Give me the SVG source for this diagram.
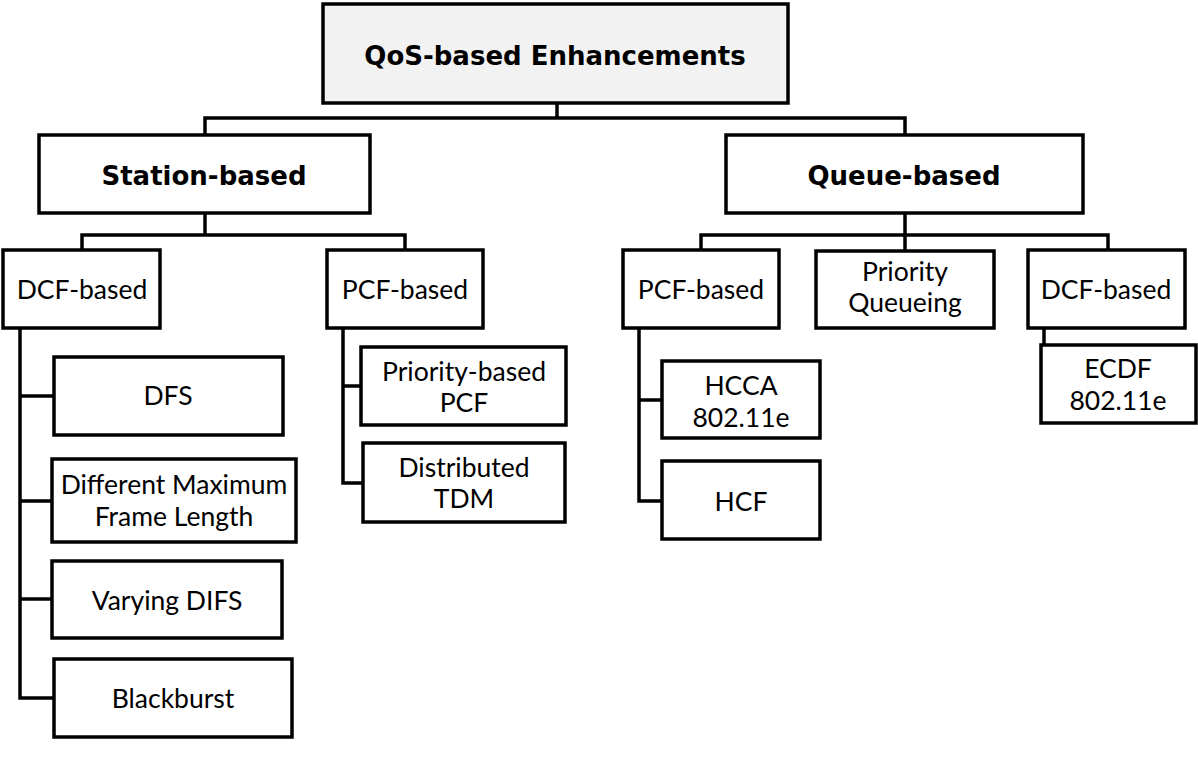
<svg xmlns="http://www.w3.org/2000/svg" width="1198" height="764" viewBox="0 0 1198 764">
<style>
.box{fill:#fff;stroke:#000;stroke-width:3.5}
.root{fill:#f2f2f2;stroke:#000;stroke-width:3.5}
.t{font-family:Lato,"Open Sans",sans-serif;font-size:26.5px;fill:#000;text-anchor:middle}
.b{font-family:"DejaVu Sans",sans-serif;font-weight:bold;font-size:26px}
.c{fill:none;stroke:#000;stroke-width:3.5;stroke-linejoin:miter}
</style>
<rect width="1198" height="764" fill="#fff"/>
<g id="connectors">
<path class="c" d="M557 103V118M205 135V118H905V135"/>
<path class="c" d="M205 213V235M82 250V235H405V250"/>
<path class="c" d="M905 213V251M701 250V235H1108V250"/>
<path class="c" d="M20 328V698H54M20 396H54M20 501H52M20 599H52"/>
<path class="c" d="M343 328V483H363M343 386H361"/>
<path class="c" d="M639 328V501H662M639 400H662"/>
<path class="c" d="M1044 328V345"/>
</g>
<g id="root"><rect class="root" x="323" y="4" width="465" height="99"/><text class="t b" x="555" y="65">QoS-based Enhancements</text></g>
<g id="station"><rect class="box" x="39" y="135" width="331" height="78"/><text class="t b" x="204" y="185">Station-based</text></g>
<g id="queue"><rect class="box" x="726" y="135" width="357" height="78"/><text class="t b" x="904" y="185">Queue-based</text></g>
<g id="dcf-left"><rect class="box" x="3" y="250" width="157" height="78"/><text class="t" x="82" y="299">DCF-based</text></g>
<g id="pcf-left"><rect class="box" x="327" y="250" width="156" height="78"/><text class="t" x="405" y="299">PCF-based</text></g>
<g id="pcf-right"><rect class="box" x="623" y="250" width="156" height="78"/><text class="t" x="701" y="299">PCF-based</text></g>
<g id="prio-queue"><rect class="box" x="816" y="251" width="178" height="77"/><text class="t" x="905" y="281">Priority</text><text class="t" x="905" y="312">Queueing</text></g>
<g id="dcf-right"><rect class="box" x="1028" y="250" width="157" height="78"/><text class="t" x="1106" y="299">DCF-based</text></g>
<g id="dfs"><rect class="box" x="54" y="357" width="229" height="78"/><text class="t" x="168" y="405">DFS</text></g>
<g id="dmfl"><rect class="box" x="52" y="459" width="244" height="83"/><text class="t" x="174" y="494">Different Maximum</text><text class="t" x="174" y="526">Frame Length</text></g>
<g id="vdifs"><rect class="box" x="52" y="561" width="230" height="77"/><text class="t" x="167" y="610">Varying DIFS</text></g>
<g id="blackburst"><rect class="box" x="54" y="659" width="238" height="78"/><text class="t" x="173" y="708">Blackburst</text></g>
<g id="prio-pcf"><rect class="box" x="361" y="347" width="205" height="78"/><text class="t" x="464" y="381">Priority-based</text><text class="t" x="464" y="412">PCF</text></g>
<g id="dtdm"><rect class="box" x="363" y="443" width="202" height="79"/><text class="t" x="464" y="477">Distributed</text><text class="t" x="464" y="508">TDM</text></g>
<g id="hcca"><rect class="box" x="662" y="361" width="158" height="77"/><text class="t" x="741" y="395">HCCA</text><text class="t" x="741" y="427">802.11e</text></g>
<g id="hcf"><rect class="box" x="662" y="461" width="158" height="78"/><text class="t" x="741" y="511">HCF</text></g>
<g id="ecdf"><rect class="box" x="1041" y="345" width="155" height="78"/><text class="t" x="1118" y="378">ECDF</text><text class="t" x="1118" y="410">802.11e</text></g>
</svg>
